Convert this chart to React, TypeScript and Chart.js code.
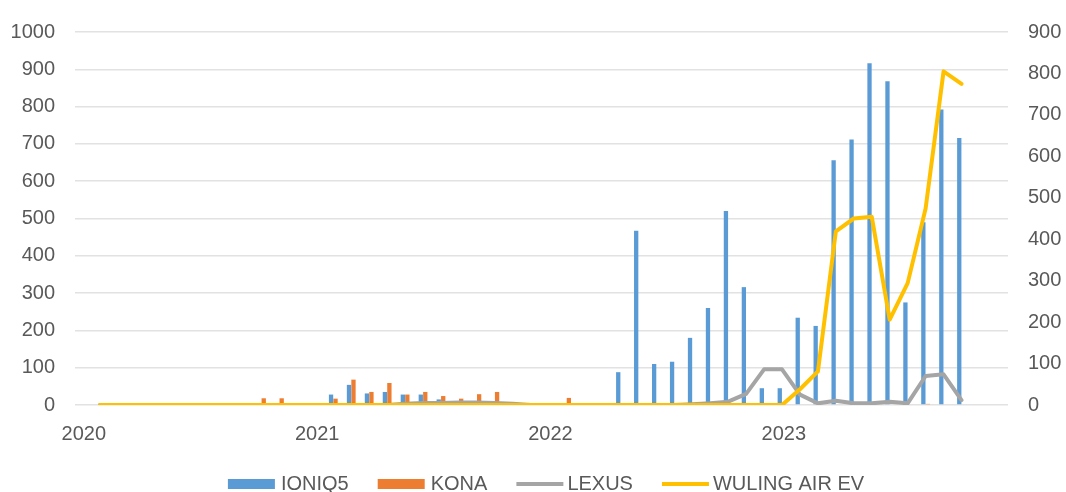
import React, { useEffect, useRef } from 'react';
import { Chart, registerables } from 'chart.js';

Chart.register(...registerables);

// Period index (consecutive reporting periods, first one shortly after the 2020 mark)
const periodIndex = [
  0, 1, 2, 3, 4, 5, 6, 7, 8, 9, 10, 11, 12, 13, 14, 15, 16, 17, 18, 19, 20, 21, 22, 23, 24,
  25, 26, 27, 28, 29, 30, 31, 32, 33, 34, 35, 36, 37, 38, 39, 40, 41, 42, 43, 44, 45, 46, 47, 48,
];

const ioniq5 = [
  0, 0, 0, 0, 0, 0, 0, 0, 0, 0, 0, 0, 0, 28, 54, 31, 35, 28, 28, 15, 0, 0, 0, 0, 0,
  0, 0, 0, 0, 88, 467, 110, 116, 180, 260, 520, 316, 45, 45, 234, 212, 656, 712, 916, 868, 275, 490, 792, 716,
];

const kona = [
  0, 0, 0, 0, 0, 0, 0, 0, 0, 18, 18, 0, 0, 17, 68, 35, 59, 28, 35, 24, 17, 29, 35, 0, 0,
  0, 19, 0, 0, 0, 0, 0, 0, 0, 0, 0, 0, 0, 0, 0, 0, 0, 0, 0, 0, 0, 3, 0, 0,
];

const lexus = [
  0, 0, 0, 0, 0, 0, 0, 0, 0, 0, 0, 0, 0, 0, 0, 0, 0, 3, 5, 5, 6, 6, 5, 3, 0,
  0, 0, 0, 0, 0, 0, 0, 0, 2, 4, 8, 27, 86, 86, 25, 4, 10, 4, 4, 8, 4, 70, 74, 12,
];

const wuling = [
  0, 0, 0, 0, 0, 0, 0, 0, 0, 0, 0, 0, 0, 0, 0, 0, 0, 0, 0, 0, 0, 0, 0, 0, 0,
  0, 0, 0, 0, 0, 0, 0, 0, 0, 0, 0, 0, 0, 0, 38, 81, 419, 450, 454, 206, 294, 474, 805, 775,
];

const yearLabels = ['2020', '2021', '2022', '2023'];
const yearTickPos = [-0.9, 12.1, 25.1, 38.1];

const X_MIN = -1.39;
const X_MAX = 50.59;

const FONT = '"Liberation Sans", Arial, sans-serif';
const TEXT_COLOR = '#595959';

const bottomLegend = {
  id: 'bottomLegend',
  afterDraw(chart: any) {
    const ctx = chart.ctx;
    ctx.save();
    ctx.font = `20px ${FONT}`;
    ctx.textBaseline = 'middle';
    ctx.textAlign = 'left';
    const items = chart.data.datasets.map((ds: any) => ({
      label: ds.label,
      isLine: ds.type === 'line',
      color: ds.type === 'line' ? ds.borderColor : ds.backgroundColor,
    }));
    const sw = 47;
    const gapItem = 29;
    const widths = items.map((it: any) => sw + (it.isLine ? 4 : 6) + ctx.measureText(it.label).width);
    const total = widths.reduce((a: number, b: number) => a + b, 0) + gapItem * (items.length - 1);
    const cx = 546;
    const y = 484;
    let x = cx - total / 2;
    items.forEach((it: any, i: number) => {
      if (it.isLine) {
        ctx.strokeStyle = it.color;
        ctx.lineWidth = 4;
        ctx.beginPath();
        ctx.moveTo(x, y);
        ctx.lineTo(x + sw, y);
        ctx.stroke();
      } else {
        ctx.fillStyle = it.color;
        ctx.fillRect(x, y - 5, sw, 10);
      }
      ctx.fillStyle = TEXT_COLOR;
      ctx.fillText(it.label, x + sw + (it.isLine ? 4 : 6), y);
      x += widths[i] + gapItem;
    });
    ctx.restore();
  },
};

export default function App() {
  const canvasRef = useRef<HTMLCanvasElement | null>(null);

  useEffect(() => {
    if (!canvasRef.current) return;
    const toXY = (arr: number[]) => periodIndex.map((x, i) => ({ x, y: arr[i] }));
    const chart = new Chart(canvasRef.current, {
      type: 'bar',
      data: {
        datasets: [
          {
            type: 'bar',
            label: 'IONIQ5',
            data: toXY(ioniq5),
            backgroundColor: '#5B9BD5',
            yAxisID: 'y',
            order: 2,
            categoryPercentage: 0.5,
            barPercentage: 0.96,
          },
          {
            type: 'bar',
            label: 'KONA',
            data: toXY(kona),
            backgroundColor: '#ED7D31',
            yAxisID: 'y',
            order: 3,
            categoryPercentage: 0.5,
            barPercentage: 0.96,
          },
          {
            type: 'line',
            label: 'LEXUS',
            data: toXY(lexus),
            borderColor: '#A5A5A5',
            backgroundColor: '#A5A5A5',
            borderWidth: 4,
            pointRadius: 0,
            tension: 0,
            borderJoinStyle: 'round',
            borderCapStyle: 'round',
            yAxisID: 'y1',
            order: 1,
          },
          {
            type: 'line',
            label: 'WULING AIR EV',
            data: toXY(wuling),
            borderColor: '#FFC000',
            backgroundColor: '#FFC000',
            borderWidth: 4,
            pointRadius: 0,
            tension: 0,
            borderJoinStyle: 'round',
            borderCapStyle: 'round',
            yAxisID: 'y1',
            order: 0,
          },
        ] as any,
      },
      options: {
        animation: false,
        responsive: true,
        maintainAspectRatio: false,
        layout: { padding: { top: 22, left: 0, right: 0, bottom: 0 } },
        plugins: {
          legend: { display: false },
          tooltip: { enabled: false },
        },
        scales: {
          x: {
            type: 'linear',
            bounds: 'data',
            offset: false,
            min: X_MIN,
            max: X_MAX,
            grid: { display: false, drawTicks: false, offset: false },
            border: { display: false },
            afterDataLimits: (scale: any) => {
              scale.min = X_MIN;
              scale.max = X_MAX;
            },
            afterBuildTicks: (scale: any) => {
              scale.ticks = yearTickPos.map((v) => ({ value: v }));
              scale.min = X_MIN;
              scale.max = X_MAX;
            },
            afterFit: (scale: any) => {
              scale.height = 87;
            },
            ticks: {
              autoSkip: false,
              maxRotation: 0,
              padding: 17,
              color: TEXT_COLOR,
              font: { family: FONT, size: 20 },
              callback: (_v: any, i: number) => yearLabels[i],
            },
          },
          y: {
            position: 'left',
            min: 0,
            max: 1000,
            grid: { color: '#E2E2E2', lineWidth: 1.5, drawTicks: false },
            border: { display: false },
            afterFit: (scale: any) => {
              scale.width = 75;
            },
            ticks: {
              stepSize: 100,
              padding: 20,
              color: TEXT_COLOR,
              font: { family: FONT, size: 20 },
              callback: (v: any) => String(v),
            },
          },
          y1: {
            position: 'right',
            min: 0,
            max: 900,
            grid: { display: false, drawTicks: false },
            border: { display: false },
            afterFit: (scale: any) => {
              scale.width = 58;
            },
            ticks: {
              stepSize: 100,
              padding: 20,
              color: TEXT_COLOR,
              font: { family: FONT, size: 20 },
              callback: (v: any) => String(v),
            },
          },
        },
      } as any,
      plugins: [bottomLegend],
    });
    return () => chart.destroy();
  }, []);

  return (
    <div
      style={{
        position: 'fixed',
        left: 0,
        top: 0,
        width: 1066,
        height: 492,
        background: '#ffffff',
      }}
    >
      <canvas ref={canvasRef} />
    </div>
  );
}
